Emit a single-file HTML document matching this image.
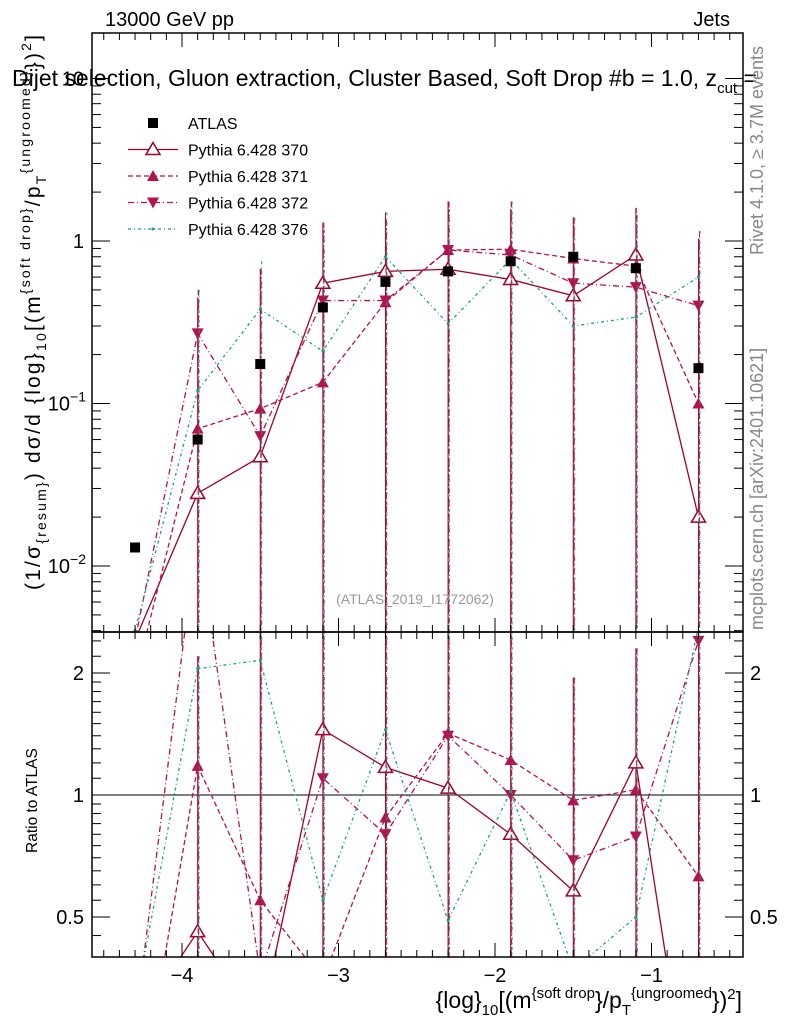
<!DOCTYPE html>
<html><head><meta charset="utf-8"><style>
html,body{margin:0;background:#fff;overflow:hidden;width:786px;height:1024px;}
svg{display:block;font-family:"Liberation Sans",Arial,sans-serif;}
</style></head><body>
<svg id="chart" width="786" height="1024" viewBox="0 0 786 1024">
<g id="g"></g>
<text x="105" y="26" font-size="20">13000 GeV pp</text>
<text x="730" y="26" font-size="20" text-anchor="end">Jets</text>
<text x="12" y="86" font-size="23">Dijet selection, Gluon extraction, Cluster Based, Soft Drop #b = 1.0, z<tspan dy="7" font-size="15">cut</tspan><tspan dy="-7"> =</tspan></text>
<text x="415" y="604" font-size="14" fill="#999" text-anchor="middle">(ATLAS_2019_I1772062)</text>
<text transform="translate(763,255) rotate(-90)" font-size="18" fill="#888">Rivet 4.1.0, ≥ 3.7M events</text>
<text transform="translate(763,630) rotate(-90)" font-size="18" fill="#888">mcplots.cern.ch [arXiv:2401.10621]</text>
<text transform="translate(40,590) rotate(-90)" font-size="21" textLength="555" lengthAdjust="spacing">(1/σ<tspan dy="6" font-size="14">{resum}</tspan><tspan dy="-6">) dσ/d {log}</tspan><tspan dy="6" font-size="14">10</tspan><tspan dy="-6">[(m</tspan><tspan dy="-10" font-size="14">{soft drop}</tspan><tspan dy="10">/p</tspan><tspan dy="6" font-size="14">T</tspan><tspan dy="-16" font-size="14">{ungroomed}</tspan><tspan dy="10">})</tspan><tspan dy="-9" font-size="14">2</tspan><tspan dy="9">]</tspan></text>
<text transform="translate(37,853) rotate(-90)" font-size="15.5">Ratio to ATLAS</text>
<text x="742" y="1008" font-size="23" text-anchor="end">{log}<tspan dy="7" font-size="15">10</tspan><tspan dy="-7">[(m</tspan><tspan dy="-10" font-size="15">{soft drop</tspan><tspan dy="10">}/p</tspan><tspan dy="7" font-size="15">T</tspan><tspan dy="-17" font-size="15">{ungroomed</tspan><tspan dy="10">})</tspan><tspan dy="-9" font-size="15">2</tspan><tspan dy="9">]</tspan></text>
</svg>
<script>
const bins=[-4.3,-3.9,-3.5,-3.1,-2.7,-2.3,-1.9,-1.5,-1.1,-0.7];
const atlas=[0.013,0.06,0.175,0.39,0.56,0.65,0.75,0.80,0.68,0.165];
const s370=[0.0035,0.028,0.047,0.55,0.65,0.67,0.58,0.46,0.82,0.02];
const s371=[0.002,0.07,0.093,0.135,0.42,0.88,0.89,0.78,0.70,0.10];
const s372=[0.0035,0.27,0.063,0.43,0.43,0.88,0.82,0.55,0.52,0.40];
const s376=[0.004,0.12,0.38,0.21,0.80,0.31,0.77,0.30,0.34,0.60];
const errUp=[0.004,0.5,0.75,1.3,1.5,1.75,1.75,1.55,1.6,1.15];
const r370=[0.27,0.46,0.27,1.45,1.17,1.04,0.80,0.58,1.20,0.12];
const r371=[0.15,1.18,0.55,0.35,0.88,1.42,1.22,0.97,1.03,0.63];
const r372=[0.27,4.5,0.36,1.10,0.80,1.40,1.00,0.69,0.79,2.40];
const r376=[0.30,2.05,2.15,0.55,1.45,0.49,1.02,0.37,0.50,2.6];
const rErr=[0.1,2.2,2.6,2.6,2.6,2.6,2.6,1.95,2.3,2.6];
const xTicks=[-4,-3,-2,-1];
const yTicks=[10,1,0.1,0.01];
const rTicks=[0.5,1,2];

const NS='http://www.w3.org/2000/svg';
const g=document.getElementById('g');
const L=92,R=743,T=33,MB=632,RB=957;
const X=v=>182+(v+4)*156.5;
const Y=v=>241-Math.log10(v)*162.5;
const YR=v=>795-Math.log2(v)*122;
function el(tag,attrs,parent){const e=document.createElementNS(NS,tag);for(const k in attrs)e.setAttribute(k,attrs[k]);(parent||g).appendChild(e);return e;}

const cm=el('clipPath',{id:'cm'});el('rect',{x:L,y:T,width:R-L,height:MB-T},cm);
const cr=el('clipPath',{id:'cr'});el('rect',{x:L,y:MB,width:R-L,height:RB-MB},cr);

const series=[
 {name:'370',col:'#a0002a',dash:'',mk:'open-up',m:s370,r:r370},
 {name:'371',col:'#b3124f',dash:'5,3',mk:'up',m:s371,r:r371},
 {name:'372',col:'#b3124f',dash:'6,3,1,3',mk:'down',m:s372,r:r372},
 {name:'376',col:'#1a9e84',dash:'3,3,1,3',mk:'dot',m:s376,r:r376}
];
function marker(par,type,x,y,col){
 if(type==='open-up')el('path',{d:`M${x},${y-7}L${x+7},${y+5}L${x-7},${y+5}Z`,fill:'#fff',stroke:col,'stroke-width':1.5},par);
 else if(type==='up')el('path',{d:`M${x},${y-6}L${x+6},${y+5}L${x-6},${y+5}Z`,fill:col},par);
 else if(type==='down')el('path',{d:`M${x},${y+6}L${x+6},${y-5}L${x-6},${y-5}Z`,fill:col},par);
 else if(type==='dot')el('circle',{cx:x,cy:y,r:1.5,fill:col},par);
 else if(type==='sq')el('rect',{x:x-5,y:y-5,width:10,height:10,fill:'#000'},par);
}
const gm=el('g',{'clip-path':'url(#cm)'});


series.forEach((s,si)=>{
 const sg=el('g',{},gm);
 
 
 bins.forEach((b,i)=>{el('line',{x1:X(b)+si*0.5,x2:X(b)+si*0.5,y1:Y(errUp[i]*(s.m[i]/atlas[i]>1?1:0.9)),y2:MB,stroke:s.col,'stroke-width':1,'stroke-dasharray':s.dash},sg);});
 el('polyline',{points:bins.map((b,i)=>X(b)+','+Y(s.m[i])).join(' '),fill:'none',stroke:s.col,'stroke-width':1.3,'stroke-dasharray':s.dash},sg);
 bins.forEach((b,i)=>marker(sg,s.mk,X(b),Y(s.m[i]),s.col));
});
const ag=el('g',{},gm);


bins.forEach((b,i)=>marker(ag,'sq',X(b),Y(atlas[i]),'#000'));
const gr=el('g',{'clip-path':'url(#cr)'});


el('line',{x1:L,x2:R,y1:YR(1),y2:YR(1),stroke:'#000','stroke-width':1},gr);
series.forEach((s,si)=>{
 const sg=el('g',{},gr);
 
 
 bins.forEach((b,i)=>{el('line',{x1:X(b)+si*0.5,x2:X(b)+si*0.5,y1:YR(rErr[i]),y2:RB,stroke:s.col,'stroke-width':1,'stroke-dasharray':s.dash},sg);});
 el('polyline',{points:bins.map((b,i)=>X(b)+','+YR(s.r[i])).join(' '),fill:'none',stroke:s.col,'stroke-width':1.3,'stroke-dasharray':s.dash},sg);
 bins.forEach((b,i)=>marker(sg,s.mk,X(b),YR(s.r[i]),s.col));
});
const f1=el('rect',{x:L,y:T,width:R-L,height:MB-T,fill:'none',stroke:'#000','stroke-width':1.5});


const f2=el('rect',{x:L,y:MB,width:R-L,height:RB-MB,fill:'none',stroke:'#000','stroke-width':1.5});


for(let v=-4.5;v<=-0.45;v+=0.1){const x=X(v);const maj=Math.abs(v-Math.round(v))<0.01;const h=maj?14:7;
 [[T,1],[MB,-1],[MB,1],[RB,-1]].forEach(([y,d])=>el('line',{x1:x,x2:x,y1:y,y2:y+d*h,stroke:'#000','stroke-width':1}));}
xTicks.forEach(v=>{const t=el('text',{x:X(v),y:982,'font-size':20,'text-anchor':'middle'});t.textContent='\u2212'+Math.abs(v);
 
 });
for(let e=-3;e<=1;e++)for(let k=1;k<10;k++){const v=k*Math.pow(10,e);const y=Y(v);if(y<T||y>MB)continue;const h=k===1?18:9;
 el('line',{x1:L,x2:L+h,y1:y,y2:y,stroke:'#000'});el('line',{x1:R,x2:R-h,y1:y,y2:y,stroke:'#000'});}
yTicks.forEach(v=>{const e=Math.round(Math.log10(v));const t=el('text',{x:84,y:Y(v)+7,'font-size':20,'text-anchor':'end'});
 if(e===0)t.textContent='1';else if(e===1)t.textContent='10';else{t.innerHTML='10<tspan dy="-9" font-size="14">\u2212'+(-e)+'</tspan>';t.setAttribute('x',86);}
 
 });
[0.45,0.5,0.55,0.6,0.65,0.7,0.75,0.8,0.85,0.9,0.95,1,1.1,1.2,1.3,1.4,1.5,1.6,1.7,1.8,1.9,2,2.2,2.4].forEach(v=>{const y=YR(v);const h=(v===0.5||v===1||v===2)?18:9;
 el('line',{x1:L,x2:L+h,y1:y,y2:y,stroke:'#000'});el('line',{x1:R,x2:R-h,y1:y,y2:y,stroke:'#000'});});
rTicks.forEach(v=>{[[84,'end'],[750,'start']].forEach(([x,a])=>{const t=el('text',{x:x,y:YR(v)+7,'font-size':20,'text-anchor':a});t.textContent=String(v);
 
 });});
const lg=el('g',{});


const lnames=['ATLAS','Pythia 6.428 370','Pythia 6.428 371','Pythia 6.428 372','Pythia 6.428 376'];
lnames.forEach((n,i)=>{const y=123+i*26.5;
 if(i===0)marker(lg,'sq',153,y,'#000');else{const s=series[i-1];el('line',{x1:128,x2:178,y1:y,y2:y,stroke:s.col,'stroke-width':1.3,'stroke-dasharray':s.dash},lg);marker(lg,s.mk,153,y,s.col);}
 const t=el('text',{x:188,y:y+6,'font-size':16},lg);t.textContent=n;});
</script>
</body></html>
